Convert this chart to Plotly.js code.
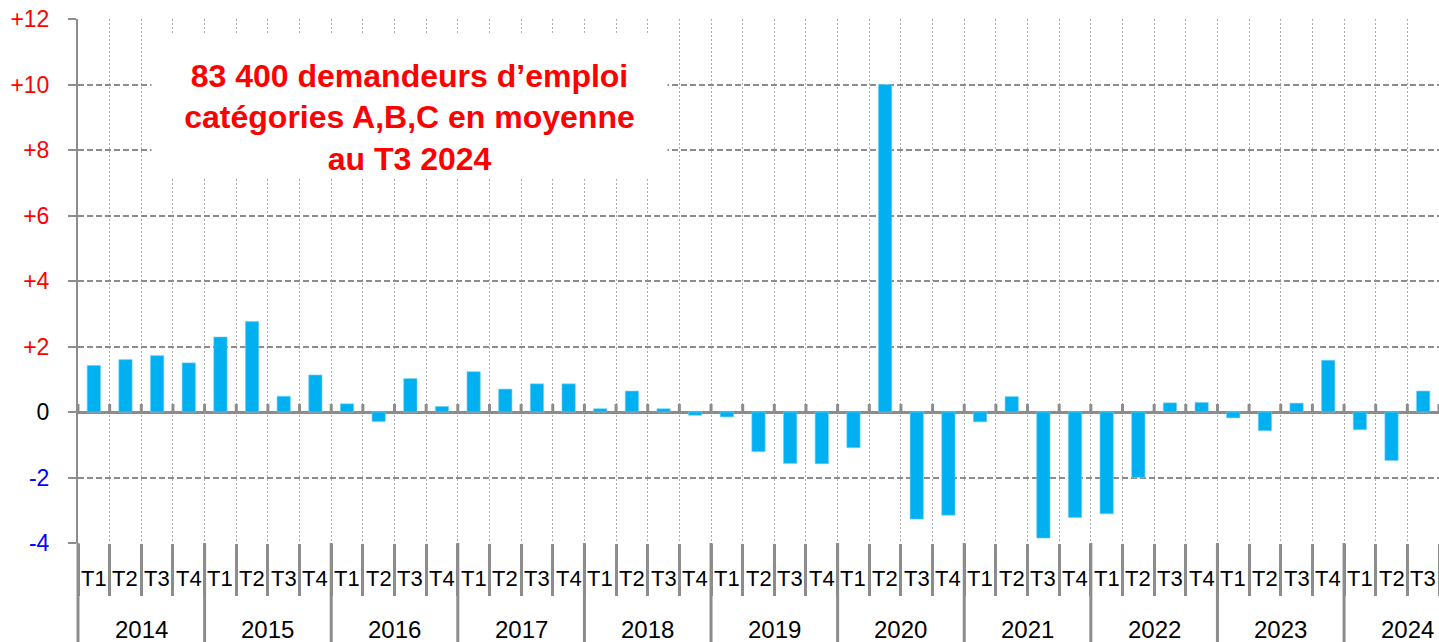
<!DOCTYPE html>
<html>
<head>
<meta charset="utf-8">
<script src="https://cdn.plot.ly/plotly-3.0.1.min.js"></script>
<style>
html,body{margin:0;padding:0;background:#ffffff;}
#chart{width:1439px;height:642px;}
</style>
</head>
<body>
<div id="chart"></div>
<script>
// ---- Data ----
const years = ['2014','2015','2016','2017','2018','2019','2020','2021','2022','2023','2024'];
const periodYears = [
  '2014','2014','2014','2014','2015','2015','2015','2015','2016','2016','2016','2016',
  '2017','2017','2017','2017','2018','2018','2018','2018','2019','2019','2019','2019',
  '2020','2020','2020','2020','2021','2021','2021','2021','2022','2022','2022','2022',
  '2023','2023','2023','2023','2024','2024','2024'
];
const periodQuarters = [
  'T1','T2','T3','T4','T1','T2','T3','T4','T1','T2','T3','T4',
  'T1','T2','T3','T4','T1','T2','T3','T4','T1','T2','T3','T4',
  'T1','T2','T3','T4','T1','T2','T3','T4','T1','T2','T3','T4',
  'T1','T2','T3','T4','T1','T2','T3'
];
const values = [
  1.42, 1.60, 1.72, 1.50,
  2.29, 2.76, 0.48, 1.13,
  0.25, -0.29, 1.02, 0.17,
  1.23, 0.70, 0.86, 0.86,
  0.10, 0.64, 0.10, -0.10,
  -0.15, -1.21, -1.57, -1.58,
  -1.09, 10.0, -3.27, -3.15,
  -0.30, 0.47, -3.85, -3.22,
  -3.11, -2.00, 0.28, 0.29,
  -0.18, -0.57, 0.27, 1.58,
  -0.54, -1.48, 0.64
];
const yTickVals = [-4, -2, 0, 2, 4, 6, 8, 10, 12];
const yTickText = ['-4', '-2', '0', '+2', '+4', '+6', '+8', '+10', '+12'];
const boxText = '83 400 demandeurs d’emploi<br>catégories A,B,C en moyenne<br>au T3 2024';

// ---- Build ----
const keys = periodYears.map((y, i) => y + ' ' + periodQuarters[i]);
const n = keys.length;
const gray = '#8c8c8c';
const font = 'Liberation Sans, Arial, sans-serif';

const coloredTicks = yTickText.map((t, i) => {
  const v = yTickVals[i];
  const c = v > 0 ? '#FF0000' : (v < 0 ? '#0000FF' : '#000000');
  return '<span style="color:' + c + '">' + t + '</span>';
});

const shapes = [];
// small ticks above the zero line at each category boundary
for (let b = 0; b <= n; b++) {
  shapes.push({
    type: 'line', xref: 'paper', yref: 'y', ysizemode: 'pixel', yanchor: 0,
    x0: b / n, x1: b / n, y0: 0, y1: 8,
    line: {color: gray, width: 3}
  });
}
// year dividers below the plot (through quarter and year rows)
for (let k = 0; k < years.length; k++) {
  const b = k * 4;
  shapes.push({
    type: 'line', xref: 'paper', yref: 'paper', ysizemode: 'pixel', yanchor: 0,
    x0: b / n, x1: b / n, y0: 0, y1: -100,
    line: {color: gray, width: 3}
  });
}

const annotations = [];
keys.forEach((k, i) => {
  annotations.push({
    xref: 'x', yref: 'paper', x: i, y: 0, yanchor: 'middle', xanchor: 'center',
    yshift: -35, showarrow: false, text: periodQuarters[i],
    font: {family: font, size: 22, color: '#000'}
  });
});
years.forEach((y, k) => {
  annotations.push({
    xref: 'x', yref: 'paper', x: k * 4 + 1.5, y: 0, yanchor: 'middle', xanchor: 'center',
    yshift: -86, showarrow: false, text: y,
    font: {family: font, size: 24, color: '#000'}
  });
});
annotations.push({
  xref: 'paper', yref: 'paper', x: 0.2439, y: 0.8336, xanchor: 'center', yanchor: 'middle',
  showarrow: false, width: 513, height: 141, bgcolor: '#ffffff', align: 'center', valign: 'bottom',
  text: '<b>' + boxText + '</b>',
  font: {family: font, size: 32, color: '#FF0000'}
});

const trace = {
  type: 'bar', x: keys, y: values,
  marker: {color: '#00B0F0', line: {color: '#6fd0f5', width: 0.6}},
  width: 0.42, hoverinfo: 'none'
};

const layout = {
  width: 1439, height: 642,
  margin: {l: 78, r: 0, t: 19, b: 99, pad: 0},
  paper_bgcolor: '#ffffff', plot_bgcolor: '#ffffff',
  showlegend: false,
  font: {family: font},
  xaxis: {
    type: 'category', range: [-0.5, n - 0.5], automargin: false,
    showticklabels: false, ticks: 'outside', ticklen: 52, tickwidth: 3, tickcolor: gray,
    tickson: 'boundaries', showgrid: true, gridcolor: '#ababab', gridwidth: 1, griddash: '2px,2px',
    showline: false, zeroline: false, fixedrange: true
  },
  yaxis: {
    range: [-4, 12], automargin: false,
    tickmode: 'array', tickvals: yTickVals, ticktext: coloredTicks,
    ticks: 'outside', ticklen: 8, tickwidth: 2, tickcolor: gray,
    ticklabelstandoff: 14,
    tickfont: {family: font, size: 23, color: '#000'},
    showline: true, linecolor: gray, linewidth: 2,
    showgrid: true, gridcolor: gray, gridwidth: 2, griddash: '6px,3px',
    zeroline: true, zerolinecolor: gray, zerolinewidth: 3, fixedrange: true
  },
  shapes: shapes,
  annotations: annotations
};

Plotly.newPlot('chart', [trace], layout, {staticPlot: true, displayModeBar: false});
</script>
</body>
</html>
